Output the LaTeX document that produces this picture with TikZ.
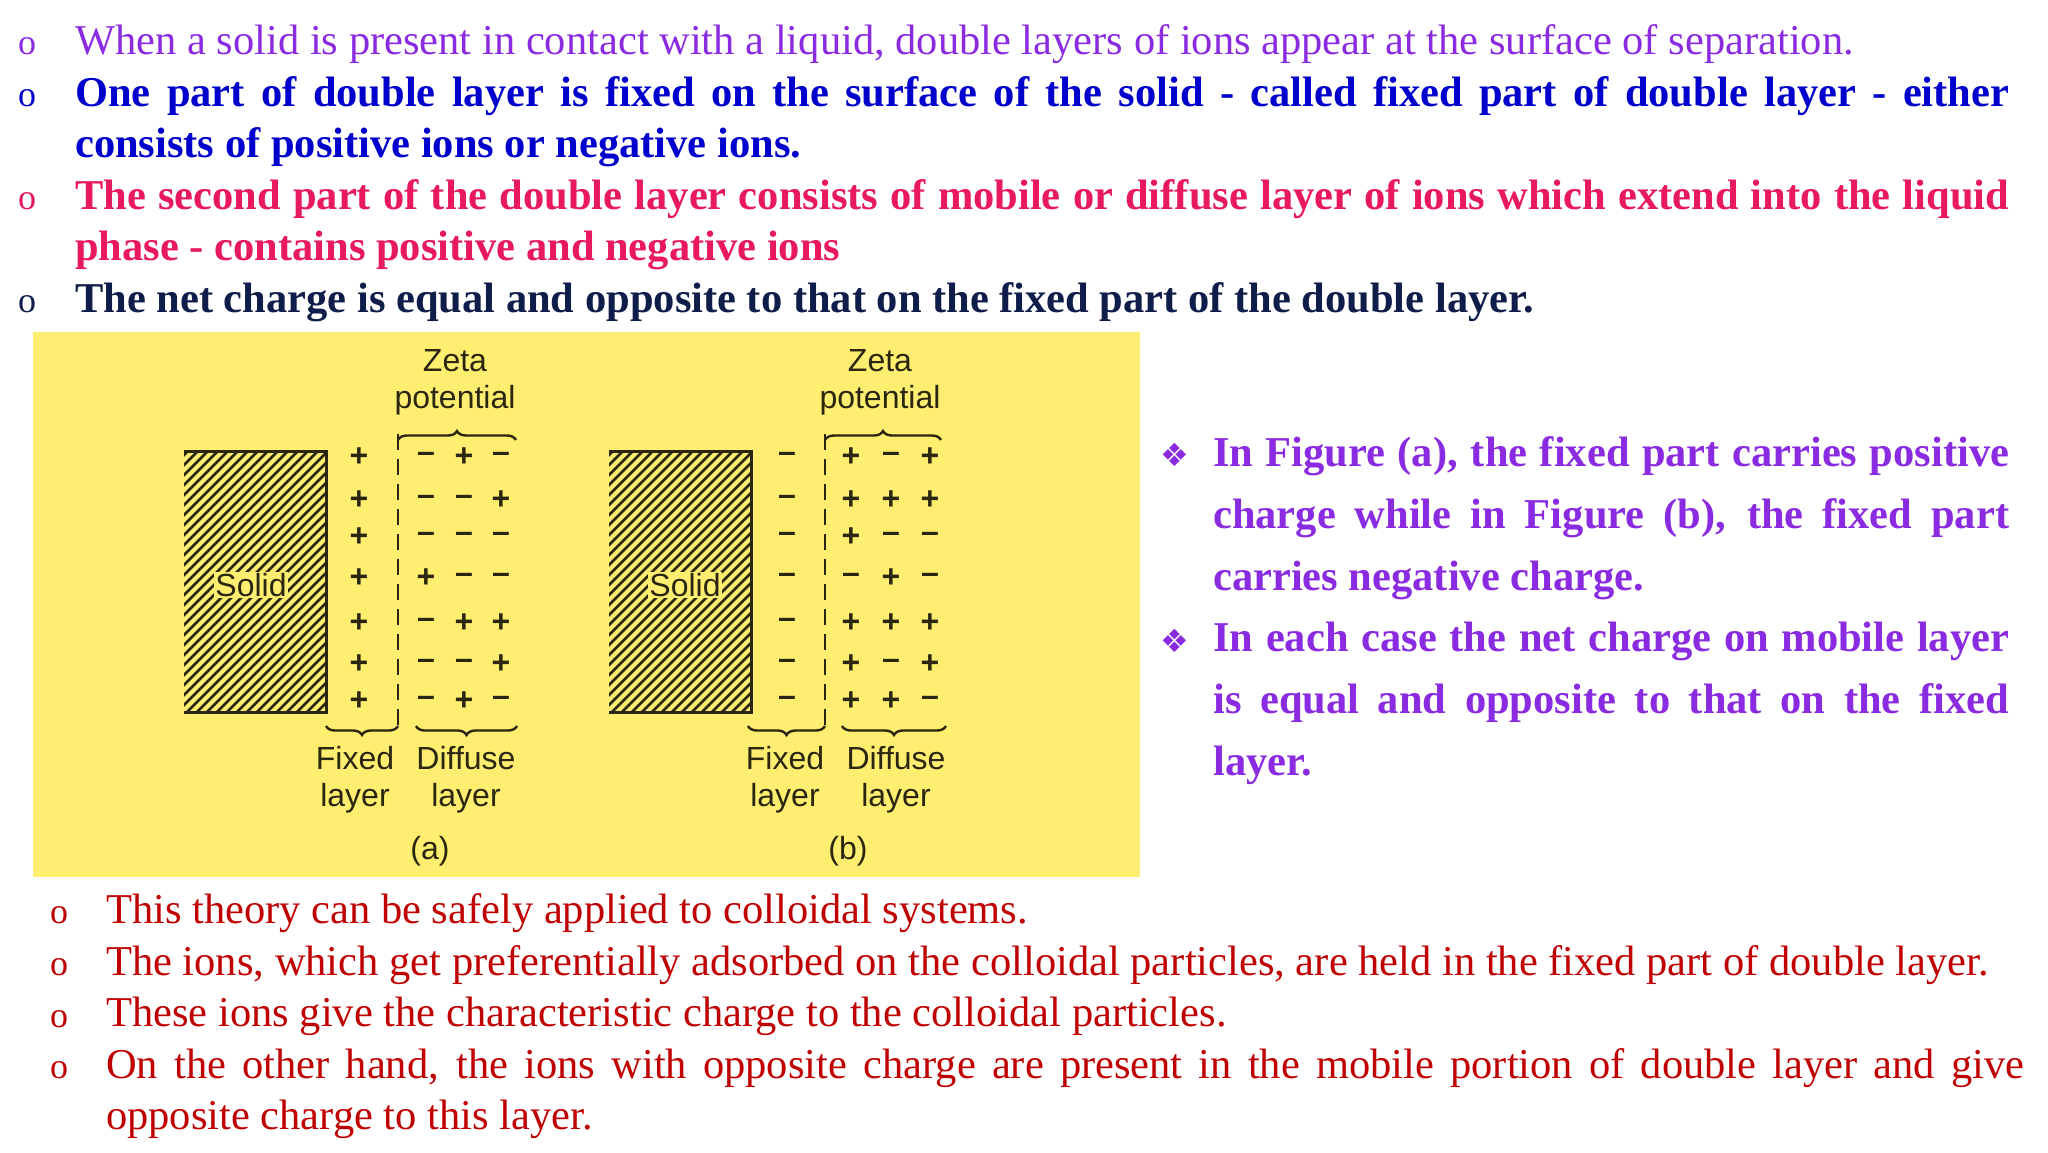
\documentclass[tikz,border=0pt]{standalone}
\usepackage{fontspec}
\setmainfont{Liberation Serif}
\setsansfont{Liberation Sans}
\newfontfamily\symfont{DejaVu Sans}
\usetikzlibrary{decorations.pathreplacing}
\definecolor{cviolet}{HTML}{8A2BE2}
\definecolor{cblue}{HTML}{0000CD}
\definecolor{ccrim}{HTML}{E8195C}
\definecolor{cnavy}{HTML}{0F1D4A}
\definecolor{cred}{HTML}{C00000}
\definecolor{cyel}{HTML}{FFEE70}
\definecolor{cink}{HTML}{2B2610}
\hyphenpenalty=10000
\tikzset{
  bul/.style={anchor=base west,inner sep=0,font=\fontsize{36}{51}\selectfont},
  para/.style={anchor=north west,inner sep=0,align=justify,font=\fontsize{42.5}{51}\selectfont},
  flab/.style={inner sep=0,text=cink,font=\sffamily\fontsize{32}{37}\selectfont,align=center},
  chg/.style={inner sep=0,text=cink,font=\sffamily\bfseries\fontsize{32}{32}\selectfont},
  hatchline/.style={line width=2.6pt,cink},
  brc/.style={decorate,decoration={brace,amplitude=9pt},line width=2.4pt,cink},
  dsh/.style={dashed,dash pattern=on 16pt off 9pt,line width=2.4pt,cink}
}
\newcommand{\pl}{+}
\newcommand{\mn}{–}
\begin{document}
\begin{tikzpicture}[x=1pt,y=-1pt]
\useasboundingbox (0,0) rectangle (2048,1152);
\fill[white] (0,0) rectangle (2048,1152);
% top bullets
\node[bul,text=cviolet] (b1) at (18,54) {o};
\node[para,text=cviolet,text width=1934pt] (t1) at (75,24) {When a solid is present in contact with a liquid, double layers of ions appear at the surface of separation.};
\node[bul,text=cblue] (b2) at (18,106) {o};
\node[para,text=cblue,text width=1934pt,font=\bfseries\fontsize{42.5}{51}\selectfont] (t2) at (75,76) {One part of double layer is fixed on the surface of the solid - called fixed part of double layer - either\linebreak consists of positive ions or negative ions.};
\node[bul,text=ccrim] (b3) at (18,209) {o};
\node[para,text=ccrim,text width=1934pt,font=\bfseries\fontsize{42.5}{51}\selectfont] (t3) at (75,179) {The second part of the double layer consists of mobile or diffuse layer of ions which extend into the liquid phase - contains positive and negative ions};
\node[bul,text=cnavy] (b4) at (18,312) {o};
\node[para,text=cnavy,text width=1934pt,font=\bfseries\fontsize{42.5}{51}\selectfont] (t4) at (75,282) {The net charge is equal and opposite to that on the fixed part of the double layer.};
% yellow panel
\fill[cyel] (33,332) rectangle (1140,877);
% panel a
\begin{scope}
\clip (184,451) rectangle (326,712);
\foreach \i in {-320,-310,...,160} \draw[hatchline] (184+\i,725) -- (184+\i+290,435);
\end{scope}
\draw[line width=3pt,cink] (184,451) -- (326,451) -- (326,712) -- (184,712);
\node[flab,fill=cyel,inner sep=1pt] (sa) at (251,585) {Solid};
\draw[dsh] (398,434) -- (398,730);
\foreach \y in {457,500,537,578,623,664,701} \node[chg] at (359,\y) {\pl};
\foreach \y/\a/\b/\c in {457/\mn/\pl/\mn,500/\mn/\mn/\pl,537/\mn/\mn/\mn,578/\pl/\mn/\mn,623/\mn/\pl/\pl,664/\mn/\mn/\pl,701/\mn/\pl/\mn}{
  \node[chg] at (426,\y) {\a}; \node[chg] at (464,\y) {\b}; \node[chg] at (501,\y) {\c};}
\draw[brc] (398,440) -- (516,440);
\node[flab] (za) at (455,382) {Zeta\\potential};
\draw[brc] (398,726) -- (326,726);
\draw[brc] (517,726) -- (416,726);
\node[flab] (fa) at (355,780) {Fixed\\layer};
\node[flab] (da) at (466,780) {Diffuse\\layer};
\node[flab] (ca) at (430,851) {(a)};
% panel b
\begin{scope}
\clip (609,451) rectangle (751,712);
\foreach \i in {-320,-310,...,160} \draw[hatchline] (609+\i,725) -- (609+\i+290,435);
\end{scope}
\draw[line width=3pt,cink] (609,451) -- (751,451) -- (751,712) -- (609,712);
\node[flab,fill=cyel,inner sep=1pt] (sb) at (685,585) {Solid};
\draw[dsh] (825,434) -- (825,730);
\foreach \y in {457,500,537,578,623,664,701} \node[chg] at (787,\y) {\mn};
\foreach \y/\a/\b/\c in {457/\pl/\mn/\pl,500/\pl/\pl/\pl,537/\pl/\mn/\mn,578/\mn/\pl/\mn,623/\pl/\pl/\pl,664/\pl/\mn/\pl,701/\pl/\pl/\mn}{
  \node[chg] at (851,\y) {\a}; \node[chg] at (891,\y) {\b}; \node[chg] at (930,\y) {\c};}
\draw[brc] (825,440) -- (941,440);
\node[flab] (zb) at (880,382) {Zeta\\potential};
\draw[brc] (825,726) -- (748,726);
\draw[brc] (946,726) -- (842,726);
\node[flab] (fb) at (785,780) {Fixed\\layer};
\node[flab] (db) at (896,780) {Diffuse\\layer};
\node[flab] (cb) at (848,851) {(b)};
% right text
\node[anchor=base west,inner sep=0,text=cviolet,font=\symfont\fontsize{32}{32}\selectfont] (r1) at (1160,466) {❖};
\node[anchor=base west,inner sep=0,text=cviolet,font=\symfont\fontsize{32}{32}\selectfont] (r2) at (1160,652) {❖};
\node[para,text=cviolet,text width=796pt,font=\bfseries\fontsize{42.5}{62}\selectfont] (rt1) at (1213,436) {In Figure (a), the fixed part carries positive\linebreak charge while in Figure (b), the fixed part\linebreak carries negative charge.};
\node[para,text=cviolet,text width=796pt,font=\bfseries\fontsize{42.5}{62}\selectfont] (rt2) at (1213,622) {In each case the net charge on mobile layer\linebreak is equal and opposite to that on the fixed\linebreak layer.};
% bottom
\node[bul,text=cred] (c1) at (50,923) {o};
\node[para,text=cred,text width=1918pt] (u1) at (106,893) {This theory can be safely applied to colloidal systems.};
\node[bul,text=cred] (c2) at (50,975) {o};
\node[para,text=cred,text width=1918pt] (u2) at (106,945) {The ions, which get preferentially adsorbed on the colloidal particles, are held in the fixed part of double layer.};
\node[bul,text=cred] (c3) at (50,1027) {o};
\node[para,text=cred,text width=1918pt] (u3) at (106,997) {These ions give the characteristic charge to the colloidal particles.};
\node[bul,text=cred] (c4) at (50,1078) {o};
\node[para,text=cred,text width=1918pt] (u4) at (106,1048) {On the other hand, the ions with opposite charge are present in the mobile portion of double layer and give\linebreak opposite charge to this layer.};
\end{tikzpicture}
\end{document}
